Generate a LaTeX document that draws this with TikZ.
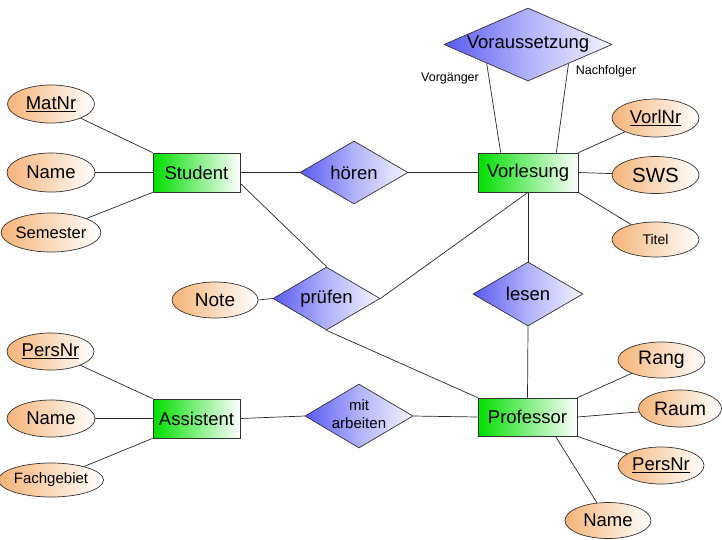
\documentclass[tikz,border=0pt]{standalone}
\usepackage{fontspec}
\setmainfont{Liberation Sans}
\usetikzlibrary{shapes.geometric,calc}
\definecolor{entgreen}{RGB}{0,222,0}
\definecolor{relblue}{RGB}{90,90,242}
\definecolor{relmid}{RGB}{178,178,250}
\definecolor{relwhite}{RGB}{244,244,255}
\definecolor{attorange}{RGB}{245,180,120}
\begin{document}
\begin{tikzpicture}[x=1pt,y=-1pt,
  every node/.style={font=\fontsize{18.5}{20}\selectfont},
  link/.style={draw=black!85, line width=0.7pt},
  ent/.style={draw=black!80, line width=0.7pt, rectangle, left color=entgreen, right color=white, inner sep=0pt},
  rel/.style={draw=black!80, line width=0.7pt, diamond, aspect=1, left color=relblue, right color=relwhite, middle color=relmid, inner sep=0pt},
  att/.style={draw=black!80, line width=0.7pt, ellipse, left color=attorange, right color=white, inner sep=0pt},
  role/.style={font=\fontsize{12.5}{14}\selectfont}]
\useasboundingbox (0,0) rectangle (722,539);

% entities
\node[ent, minimum width=87pt, minimum height=39pt] (Student) at (196.5,172.5) {Student};
\node[ent, minimum width=100pt, minimum height=39pt] (Vorlesung) at (528,172.5) {Vorlesung};
\node[ent, minimum width=87pt, minimum height=39pt] (Assistent) at (196.5,418.5) {Assistent};
\node[ent, minimum width=99pt, minimum height=38pt] (Professor) at (527.5,417) {Professor};

% relationships
\node[rel, minimum width=108pt, minimum height=63pt] (hoeren) at (354,172.5) {\makebox[0pt]{hören}};
\node[rel, minimum width=168pt, minimum height=73pt] (Voraus) at (528,44.5) {\makebox[0pt]{Voraussetzung}};
\node[rel, minimum width=107pt, minimum height=63pt] (pruefen) at (326.5,298.5) {\makebox[0pt]{prüfen}};
\node[rel, minimum width=110pt, minimum height=64pt] (lesen) at (528,294) {\makebox[0pt]{lesen}};
\node[rel, minimum width=108pt, minimum height=64pt, font=\fontsize{15}{19}\selectfont] (mitarb) at (359,416) {\makebox[0pt]{\begin{tabular}{@{}c@{}}mit\\[-1pt]arbeiten\end{tabular}}};

% attributes
\node[att, minimum width=87pt, minimum height=38pt] (MatNr) at (51,104) {\underline{MatNr}};
\node[att, minimum width=88pt, minimum height=39pt] (NameS) at (51,172.5) {Name};
\node[att, minimum width=88pt, minimum height=39pt, font=\fontsize{16.5}{18}\selectfont] (Semester) at (51,232.5) {Semester};
\node[att, minimum width=87pt, minimum height=38pt] (VorlNr) at (655.5,118) {\underline{VorlNr}};
\node[att, minimum width=87pt, minimum height=37pt, font=\fontsize{20.5}{22}\selectfont] (SWS) at (655.5,175) {SWS};
\node[att, minimum width=87pt, minimum height=35pt, font=\fontsize{14}{16}\selectfont] (Titel) at (655.5,239.5) {Titel};
\node[att, minimum width=86pt, minimum height=36pt, font=\fontsize{19}{20}\selectfont] (Note) at (215,300) {Note};
\node[att, minimum width=87pt, minimum height=37pt] (PersNrA) at (50.5,351.5) {\underline{PersNr}};
\node[att, minimum width=88pt, minimum height=37pt] (NameA) at (51,418.5) {Name};
\node[att, minimum width=88pt, minimum height=34pt, font=\fontsize{15}{16}\selectfont] (Fach) at (51,480) {Fachgebiet};
\node[att, minimum width=87pt, minimum height=36pt, font=\fontsize{19.5}{20}\selectfont] (Rang) at (661.5,360) {Rang};
\node[att, minimum width=83pt, minimum height=37pt, font=\fontsize{19.5}{20}\selectfont] (Raum) at (680,408.5) {Raum};
\node[att, minimum width=86pt, minimum height=37pt] (PersNrP) at (661,465.5) {\underline{PersNr}};
\node[att, minimum width=86pt, minimum height=36pt] (NameP) at (608,520.5) {Name};

% role labels
\node[role] (vorg) at (450,78) {Vorgänger};
\node[role] (nachf) at (606,71) {Nachfolger};

% connectors: Student
\draw[link] (MatNr) -- (Student.north west);
\draw[link] (NameS) -- (Student.west);
\draw[link] (Semester) -- (Student.south west);
\draw[link] (Student.east) -- (hoeren.west);
\draw[link] (hoeren.east) -- (Vorlesung.west);
\draw[link] ($(Student.east)!0.55!(Student.south east)$) -- (pruefen.north);

% Voraussetzung
\draw[link] ($(Voraus.west)!0.51!(Voraus.south)$) -- ($(Vorlesung.north west)+(23,0)$);
\draw[link] ($(Voraus.east)!0.52!(Voraus.south)$) -- ($(Vorlesung.north east)+(-22,0)$);

% Vorlesung attributes
\draw[link] (VorlNr) -- (Vorlesung.north east);
\draw[link] (Vorlesung.east) -- (SWS);
\draw[link] (Titel) -- (Vorlesung.south east);

% pruefen / lesen
\draw[link] (Note.east) -- (pruefen.west);
\draw[link] (Vorlesung.south) -- (pruefen.east);
\draw[link] (Vorlesung.south) -- (lesen.north);
\draw[link] (lesen.south) -- (Professor.north);
\draw[link] (pruefen.south) -- (Professor.north west);

% Assistent
\draw[link] (PersNrA) -- (Assistent.north west);
\draw[link] (NameA) -- (Assistent.west);
\draw[link] (Fach) -- (Assistent.south west);
\draw[link] (Assistent.east) -- (mitarb.west);
\draw[link] (mitarb.east) -- (Professor.west);

% Professor attributes
\draw[link] (Rang) -- (Professor.north east);
\draw[link] (Raum) -- (Professor.east);
\draw[link] (PersNrP) -- (Professor.south east);
\draw[link] ($(Professor.south)+(28,0)$) -- (NameP);
\end{tikzpicture}
\end{document}
